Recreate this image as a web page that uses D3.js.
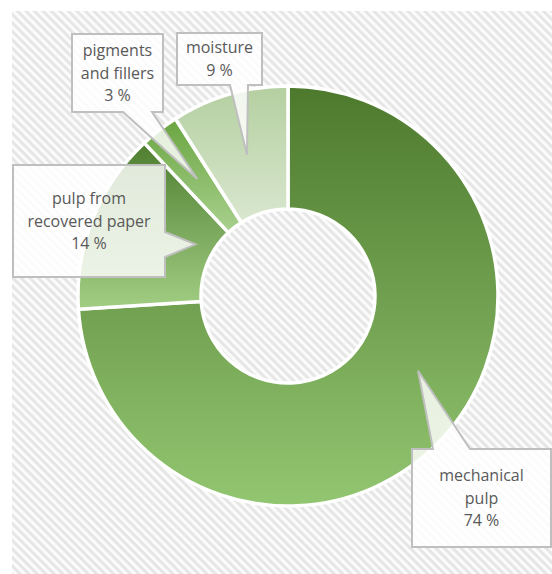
<!DOCTYPE html>
<html>
<head>
<meta charset="utf-8">
<script src="https://cdn.jsdelivr.net/npm/d3@7"></script>
<style>
  body { margin: 0; background: #fff; }
  svg { display: block; }
  text { font-family: "Open Sans", sans-serif; font-size: 16px; fill: #595959; }
</style>
</head>
<body>
<svg id="chart" width="552" height="574"></svg>
<script>
// composition of newsprint, clockwise from 12 o'clock
const categories = ["mechanical pulp", "pulp from recovered paper", "pigments and fillers", "moisture"];
const shares = [74, 14, 3, 9];
const labelLines = [["mechanical", "pulp", "74 %"], ["pulp from", "recovered paper", "14 %"], ["pigments", "and fillers", "3 %"], ["moisture", "9 %"]];
const gradTop = ["#4d792d", "#4f7e30", "#6aa541", "#b4cfa0"];
const gradBottom = ["#93c671", "#a2ce84", "#a9d18e", "#d9e7cf"];

// callout boxes (x, y, w, h), which side the pointer leaves from, and where in the slice it points
const callouts = [
  {x: 412, y: 449, w: 139, h: 98, side: "top", b0: 433, b1: 470, t: 0.45, r: 150},
  {x: 13, y: 165, w: 152, h: 112, side: "right", b0: 232, b1: 257, t: 0.65, r: 106},
  {x: 72, y: 34, w: 91, h: 78, side: "bottom", b0: 123, b1: 152, t: 0.5, r: 148},
  {x: 177, y: 33, w: 85, h: 52, side: "bottom", b0: 230, b1: 248, t: 0.5, r: 147}
];

const svg = d3.select("#chart");
const cx = 288, cy = 296, outerR = 210, innerR = 87;

const defs = svg.append("defs");

// diagonal hatch behind everything
const pat = defs.append("pattern")
    .attr("id", "hatch")
    .attr("patternUnits", "userSpaceOnUse")
    .attr("width", 6).attr("height", 6)
    .attr("patternTransform", "rotate(45)");
pat.append("rect").attr("width", 6).attr("height", 6).attr("fill", "#fbfbfb");
pat.append("rect").attr("width", 6).attr("height", 3).attr("fill", "#e6e6e6");

svg.append("rect")
    .attr("x", 12).attr("y", 11)
    .attr("width", 540).attr("height", 563)
    .attr("fill", "url(#hatch)");

categories.forEach(function (c, i) {
    const g = defs.append("linearGradient")
        .attr("id", "grad" + i)
        .attr("x1", 0).attr("y1", 0).attr("x2", 0).attr("y2", 1);
    g.append("stop").attr("offset", "0%").attr("stop-color", gradTop[i]);
    g.append("stop").attr("offset", "100%").attr("stop-color", gradBottom[i]);
});

const pie = d3.pie().sort(null).value(d => d);
const arcs = pie(shares);

const arc = d3.arc().innerRadius(innerR).outerRadius(outerR);

const chart = svg.append("g").attr("transform", "translate(" + cx + "," + cy + ")");

chart.selectAll("path.slice")
    .data(arcs)
    .enter()
    .append("path")
    .attr("class", "slice")
    .attr("d", arc)
    .attr("fill", (d, i) => "url(#grad" + i + ")")
    .attr("stroke", "#fff")
    .attr("stroke-width", 3.5)
    .attr("stroke-linejoin", "miter");

// callouts
function tipPoint(d, c) {
    const a = d.startAngle + c.t * (d.endAngle - d.startAngle);
    return [cx + c.r * Math.sin(a), cy - c.r * Math.cos(a)];
}

function calloutPath(c, tip) {
    const x0 = c.x, y0 = c.y, x1 = c.x + c.w, y1 = c.y + c.h;
    const p = d3.path();
    p.moveTo(x0, y0);
    if (c.side === "top") {
        p.lineTo(c.b0, y0); p.lineTo(tip[0], tip[1]); p.lineTo(c.b1, y0);
    }
    p.lineTo(x1, y0);
    if (c.side === "right") {
        p.lineTo(x1, c.b0); p.lineTo(tip[0], tip[1]); p.lineTo(x1, c.b1);
    }
    p.lineTo(x1, y1);
    if (c.side === "bottom") {
        p.lineTo(c.b1, y1); p.lineTo(tip[0], tip[1]); p.lineTo(c.b0, y1);
    }
    p.lineTo(x0, y1);
    p.closePath();
    return p.toString();
}

const labels = svg.selectAll("g.callout")
    .data(arcs)
    .enter()
    .append("g")
    .attr("class", "callout");

labels.append("path")
    .attr("d", (d, i) => calloutPath(callouts[i], tipPoint(d, callouts[i])))
    .attr("fill", "#fff")
    .attr("fill-opacity", 0.82)
    .attr("stroke", "#bfbfbf")
    .attr("stroke-width", 2);

labels.each(function (d, i) {
    const c = callouts[i];
    const lines = labelLines[i];
    const lh = 22.5;
    const mid = c.y + c.h / 2;
    d3.select(this).selectAll("text")
        .data(lines)
        .enter()
        .append("text")
        .attr("x", c.x + c.w / 2)
        .attr("y", (l, k) => mid + (k - (lines.length - 1) / 2) * lh)
        .attr("dy", "0.35em")
        .attr("text-anchor", "middle")
        .text(l => l);
});
</script>
</body>
</html>
